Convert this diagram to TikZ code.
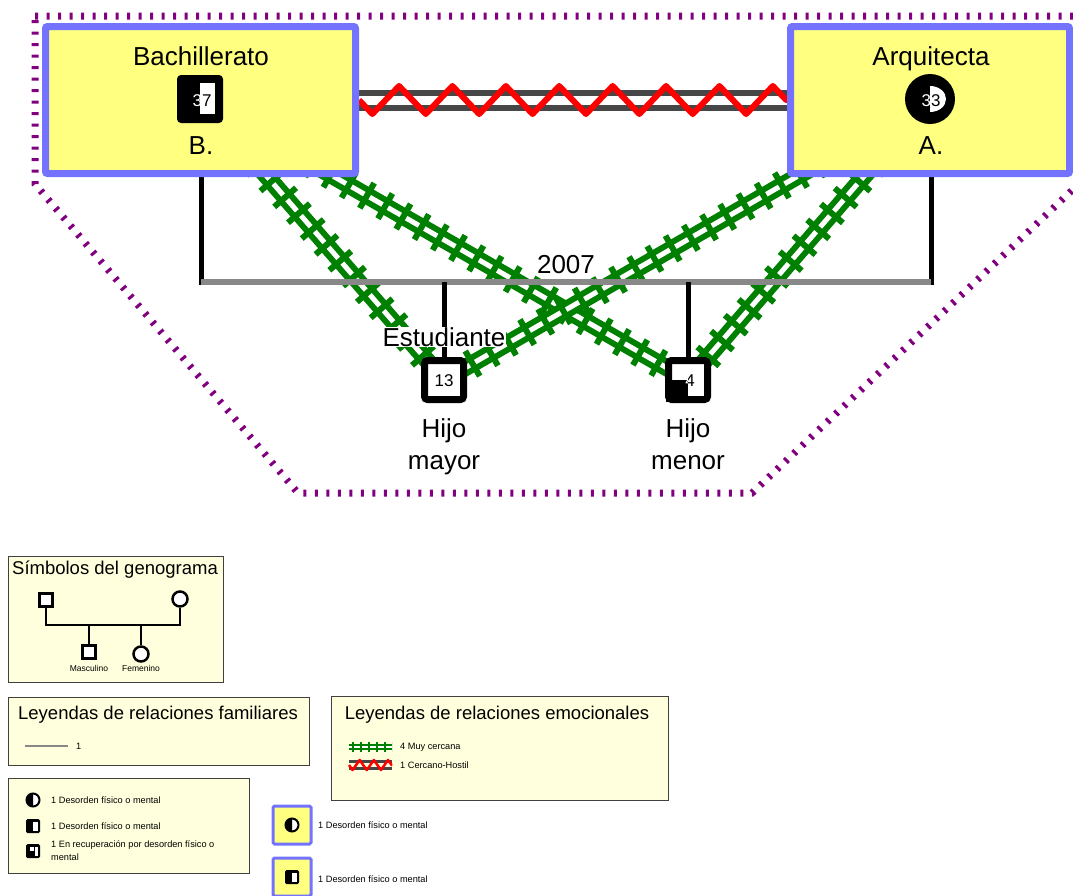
\documentclass[tikz,border=0pt]{standalone}
\usepackage{fontspec}
\setmainfont{Liberation Sans}
\usetikzlibrary{decorations.pathmorphing,calc}
\pgfdeclarelayer{bg}
\pgfsetlayers{bg,main}
\definecolor{boxyellow}{HTML}{FFFF80}
\definecolor{boxblue}{HTML}{7373FF}
\definecolor{railgreen}{HTML}{008000}
\definecolor{legfill}{HTML}{FFFFDD}
\definecolor{legborder}{HTML}{404040}
\definecolor{famgray}{HTML}{888888}
\definecolor{hostgray}{HTML}{464646}
\definecolor{bound}{HTML}{800080}
\begin{document}
\begin{tikzpicture}[x=1pt,y=-1pt,
  person/.style={draw=boxblue, line width=7pt, fill=boxyellow, rounded corners=2pt, minimum width=310pt, minimum height=147pt, inner sep=0pt},
  bigtxt/.style={font=\fontsize{26}{29}\selectfont, inner sep=1pt},
  bigbase/.style={font=\fontsize{26}{29}\selectfont, inner sep=0pt, anchor=base},
  numtxt/.style={font=\fontsize{17}{19}\selectfont, inner sep=0pt},
  childbox/.style={draw=black, line width=7pt, fill=white, rounded corners=3pt, minimum size=39pt, inner sep=0pt},
  rail/.style={preaction={draw=railgreen, line width=6pt, double=white, double distance=5pt}, draw=railgreen, line width=29pt, dash pattern=on 6pt off 15pt},
  railsmall/.style={preaction={draw=railgreen, line width=2pt, double=white, double distance=2pt}, draw=railgreen, line width=10pt, dash pattern=on 2pt off 6pt, dash phase=-3pt},
  kin/.style={draw=black, line width=5pt},
  famline/.style={draw=famgray, line width=6pt},
  hostline/.style={draw=hostgray, line width=6pt},
  zig/.style={draw=red, line width=6pt, line join=round, decorate, decoration={zigzag, segment length=53.4pt, amplitude=-14pt}},
  zigsmall/.style={draw=red, line width=2.5pt, line join=round, decorate, decoration={zigzag, segment length=14.2pt, amplitude=-5pt}},
  boundary/.style={draw=bound, line width=7pt, dash pattern=on 3pt off 8.5pt},
  legbox/.style={draw=legborder, line width=1.2pt, fill=legfill, anchor=north west, inner sep=0pt},
  legtitle/.style={font=\fontsize{18.5}{21}\selectfont, inner sep=0pt},
  smalltxt/.style={font=\fontsize{9.2}{12}\selectfont, inner sep=0pt},
  iconbox/.style={draw=boxblue, line width=3pt, fill=boxyellow, rounded corners=1.5pt, minimum size=38pt, inner sep=0pt},
  sym/.style={draw=black, line width=2.5pt, fill=white, inner sep=0pt},
  halfcirc/.pic={
    \draw[line width=2pt, fill=white] (0,0) circle[radius=6.5];
    \begin{scope}\clip (-8,-8) rectangle (0,8); \fill (0,0) circle[radius=6.5]; \end{scope}
  },
  halfsq/.pic={
    \fill[rounded corners=1.5pt] (-7,-7) rectangle (7,7);
    \fill[white] (0,-4.5) rectangle (4.5,4.5);
  },
  recsq/.pic={
    \fill[rounded corners=1.5pt] (-7,-7) rectangle (7,7);
    \fill[white] (-3.5,-4.5) rectangle (0.5,0);
    \fill[white] (1.5,-4.5) rectangle (4.5,4.5);
  }
]
\useasboundingbox (0,0) rectangle (1073,895);

% ---------- persons ----------
\node[person] (B) at (200.5,100) {};
\node[person, minimum width=279pt] (A) at (930,100) {};
\node[bigbase] (Bocc) at (201,65) {Bachillerato};
\node[bigbase] (Bname) at (201,154) {B.};
\node[bigbase] (Aocc) at (931,65) {Arquitecta};
\node[bigbase] (Aname) at (931,154) {A.};

% symbol of B
\node[fill=black, rounded corners=4pt, minimum width=46pt, minimum height=48pt, inner sep=0pt] (Bsym) at (200,99) {};
\fill[white] (200,83) rectangle (215,114);
\node[numtxt] (Bage) at (202,101) {\textcolor{white}{3}7};

% symbol of A
\node[circle, fill=black, minimum size=50pt, inner sep=0pt] (Asym) at (930,99) {};
\begin{scope}
  \clip (930,80) rectangle (950,118);
  \fill[white] (930,99) ellipse[x radius=16, y radius=13];
\end{scope}
\node[numtxt] (Aage) at (931,101) {\textcolor{white}{3}3};

% ---------- children ----------
\node[childbox] (c1) at (444,380) {};
\node[numtxt] (c1age) at (444,381) {13};
\node[childbox] (c2) at (688,380) {};
\fill[black] (c2.center) rectangle ($(c2.south west)+(1,-1)$);
\node[numtxt] (c2age) at (690,381) {\textcolor{white}{4}};
\begin{scope}
  \clip (c2.center) ++(0,-20) rectangle ++(20,40);
  \node[numtxt] at (690,381) {4};
\end{scope}
\node[bigbase] (c1a) at (444,437) {Hijo};
\node[bigbase] (c1b) at (444,469) {mayor};
\node[bigbase] (c2a) at (688,437) {Hijo};
\node[bigbase] (c2b) at (688,469) {menor};
\node[bigbase, fill=white, inner sep=0.5pt] (occ1) at (444,346) {Estudiante};

\coordinate (jL) at (201,282);
\coordinate (jR) at (931,282);
\node[bigbase] (year) at (566,273) {2007};

% ---------- connectors (behind) ----------
\begin{pgfonlayer}{bg}
  \draw[boundary] (35,16) -- (1085,16) -- (1085,178) -- (752,493) -- (298,493) -- (35,184) -- cycle;
  \draw[rail] (B.center) -- (c1.center);
  \draw[rail] (B.center) -- (c2.center);
  \draw[rail] (A.center) -- (c1.center);
  \draw[rail] (A.center) -- (c2.center);
  \draw[kin] (jL |- B.south) -- ($(jL)+(0,2.5)$);
  \draw[kin] (jR |- A.south) -- ($(jR)+(0,2.5)$);
  \draw[famline] (jL) -- (jR);
  \draw[kin] (c1 |- jL) -- (c1.north);
  \draw[kin] (c2 |- jL) -- (c2.north);
  \draw[hostline] ([yshift=7.5pt]B.east) -- ([yshift=7.5pt]A.west);
  \draw[hostline] ([yshift=-7.5pt]B.east) -- ([yshift=-7.5pt]A.west);
  \draw[zig] (B.east) -- (A.west);
\end{pgfonlayer}

% ---------- legend: symbols ----------
\node[legbox, minimum width=215pt, minimum height=126pt] (leg1) at (8,556) {};
\node[legtitle] (leg1t) at (115,570) {Símbolos del genograma};
\node[sym, minimum size=13pt] (lsq1) at (46,600) {};
\node[sym, circle, minimum size=15pt] (lci1) at (180,599) {};
\node[sym, minimum size=13pt] (lsq2) at (89,652) {};
\node[sym, circle, minimum size=15pt] (lci2) at (141,654) {};
\coordinate (sbar) at (0,625);
\draw[line width=2.5pt] (lsq1.south) -- (lsq1.south |- sbar) -- (lci1.south |- sbar) -- (lci1.south);
\draw[line width=2.5pt] (lsq2.north |- sbar) -- (lsq2.north);
\draw[line width=2.5pt] (lci2.north |- sbar) -- (lci2.north);
\node[smalltxt, font=\fontsize{8.5}{10}\selectfont] (lmas) at (89,668) {Masculino};
\node[smalltxt, font=\fontsize{8.5}{10}\selectfont] (lfem) at (141,668) {Femenino};

% ---------- legend: family relations ----------
\node[legbox, minimum width=301pt, minimum height=68pt] (leg2) at (8,697) {};
\node[legtitle] (leg2t) at (158,715) {Leyendas de relaciones familiares};
\coordinate (lf1) at (25,746);
\coordinate (lf2) at (68,746);
\draw[draw=famgray, line width=2.5pt] (lf1) -- (lf2);
\node[smalltxt, anchor=west] (lf3) at (76,746) {1};

% ---------- legend: emotional relations ----------
\node[legbox, minimum width=337pt, minimum height=104pt] (leg3) at (331,696) {};
\node[legtitle] (leg3t) at (497,715) {Leyendas de relaciones emocionales};
\coordinate (le1) at (349,747);
\coordinate (le2) at (392,747);
\draw[railsmall] (le1) -- (le2);
\node[smalltxt, anchor=west] (le3) at (400,747) {4 Muy cercana};
\coordinate (lh1) at (349,765);
\coordinate (lh2) at (392,765);
\draw[draw=hostgray, line width=2.2pt] ($(lh1)+(0,-3.5)$) -- ($(lh2)+(0,-3.5)$);
\draw[draw=hostgray, line width=2.2pt] ($(lh1)+(0,3.5)$) -- ($(lh2)+(0,3.5)$);
\draw[zigsmall] (lh1) -- (lh2);
\node[smalltxt, anchor=west] (lh3) at (400,765) {1 Cercano-Hostil};

% ---------- legend: disorders ----------
\node[legbox, minimum width=241pt, minimum height=95pt] (leg4) at (8,778) {};
\pic at (33,800) {halfcirc};
\node[smalltxt, anchor=west] (ld1) at (51,800) {1 Desorden físico o mental};
\pic at (33,826) {halfsq};
\node[smalltxt, anchor=west] (ld2) at (51,826) {1 Desorden físico o mental};
\pic at (33,851) {recsq};
\node[smalltxt, anchor=north west, align=left, font=\fontsize{9.2}{12.5}\selectfont] (ld3) at (51,841) {1 En recuperación por desorden físico o\\mental};

% ---------- icon boxes ----------
\node[iconbox] (ib1) at (292,825) {};
\pic at (ib1.center) {halfcirc};
\node[smalltxt, anchor=west] (ib1t) at (318,825) {1 Desorden físico o mental};
\node[iconbox] (ib2) at (292,877) {};
\pic at (ib2.center) {halfsq};
\node[smalltxt, anchor=west] (ib2t) at (318,879) {1 Desorden físico o mental};
\end{tikzpicture}
\end{document}
